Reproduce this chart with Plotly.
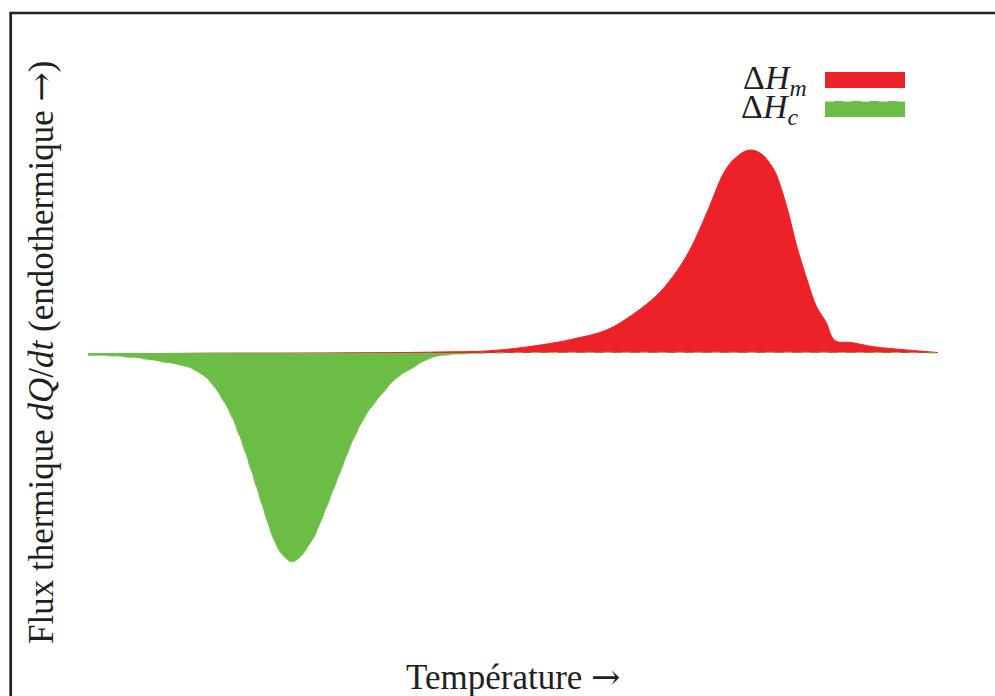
import plotly.graph_objects as go

# Melting endotherm (ΔH_m): temperature (arbitrary units) and heat flux (normalised)
t_melt = [0, 5, 13, 25, 37, 41.4, 47.3, 53.2, 57.1, 61.0, 64.1, 66.9, 68.8, 70.8,
          72.9, 74.7, 75.7, 76.5, 77.2, 77.9, 78.6, 79.4, 80.2, 80.9, 82.2, 83.4,
          84.6, 85.7, 86.9, 87.5, 88.1, 89.7, 92.4, 96.3, 100]
q_melt = [-0.010, -0.005, -0.001, 0.000, 0.0025, 0.005, 0.011, 0.039, 0.069, 0.113,
          0.190, 0.283, 0.376, 0.507, 0.700, 0.880, 0.942, 0.972, 0.992, 1.000, 0.995,
          0.975, 0.935, 0.887, 0.722, 0.524, 0.360, 0.229, 0.146, 0.080, 0.056, 0.052,
          0.031, 0.015, 0.0025]

# Crystallisation exotherm (ΔH_c)
t_cryst = [0, 4.9, 8.5, 12.0, 14.0, 15.5, 16.7, 17.9, 19.1, 20.2, 21.4, 22.0, 22.6,
           23.3, 23.9, 24.5, 25.1, 25.7, 26.5, 28.1, 29.7, 31.2, 32.8, 34.4, 36.3,
           38.0, 40.2, 42.2, 46.1, 54.4, 72.0, 93.2, 100]
q_cryst = [-0.010, -0.021, -0.042, -0.074, -0.126, -0.207, -0.296, -0.419, -0.567,
           -0.714, -0.870, -0.935, -0.980, -1.013, -1.028, -1.022, -1.000, -0.965,
           -0.915, -0.757, -0.586, -0.429, -0.300, -0.212, -0.123, -0.079, -0.027,
           -0.010, -0.002, 0.002, 0.003, 0.002, 0.0]

RED = "#ED2229"
GREEN = "#6BBD45"
INK = "#231F20"
FONT = "Liberation Serif"
ARROW = '<span style="font-family:DejaVu Serif">→</span>'
W, H = 995, 696


def px(x):
    return x / W


def py(y):
    return 1 - y / H


fig = go.Figure()
fig.add_trace(go.Scatter(x=t_melt, y=q_melt, mode="lines", fill="tozeroy",
                         fillcolor=RED, line=dict(color=RED, width=1, shape="spline",
                                                  smoothing=1.0),
                         showlegend=False, hoverinfo="skip"))
fig.add_trace(go.Scatter(x=t_cryst, y=q_cryst, mode="lines", fill="tozeroy",
                         fillcolor=GREEN, line=dict(color="rgba(140,200,100,0.85)", width=1.2,
                                                    dash="dash", shape="spline", smoothing=1.0),
                         showlegend=False, hoverinfo="skip"))

shapes = [
    # frame around the figure
    dict(type="rect", xref="paper", yref="paper", x0=px(10.7), x1=1.2, y0=-0.2, y1=py(13),
         line=dict(color=INK, width=2.7), fillcolor="rgba(0,0,0,0)", layer="above"),
    # legend swatches
    dict(type="rect", xref="paper", yref="paper", x0=px(825), x1=px(905), y0=py(88), y1=py(72),
         line=dict(width=0), fillcolor=RED),
    dict(type="rect", xref="paper", yref="paper", x0=px(825), x1=px(905), y0=py(117), y1=py(101),
         line=dict(width=0), fillcolor=GREEN),
    dict(type="line", xref="paper", yref="paper", x0=px(825), x1=px(905), y0=py(101.5), y1=py(101.5),
         line=dict(color="rgba(200,230,180,0.9)", width=1, dash="dash")),
]

annotations = [
    dict(text="Température " + ARROW, xref="paper", yref="paper", x=px(513), y=py(677),
         xanchor="center", yanchor="middle", showarrow=False,
         font=dict(family=FONT, size=35, color=INK)),
    dict(text="Flux thermique <i>dQ</i>/<i>dt</i> (endothermique " + ARROW + ")",
         xref="paper", yref="paper", x=px(41), y=py(353), xanchor="center", yanchor="middle",
         textangle=-90, showarrow=False, font=dict(family=FONT, size=35, color=INK)),
    dict(text="Δ<i>H</i><sub><i>m</i></sub>", xref="paper", yref="paper", x=px(809), y=py(80),
         xanchor="right", yanchor="middle", showarrow=False,
         font=dict(family=FONT, size=34, color=INK)),
    dict(text="Δ<i>H</i><sub><i>c</i></sub>", xref="paper", yref="paper", x=px(800), y=py(109),
         xanchor="right", yanchor="middle", showarrow=False,
         font=dict(family=FONT, size=34, color=INK)),
]

# axis ranges chosen so the whole page is the plotting area
x_lo, x_hi = (0 - 88) / 8.5, (W - 88) / 8.5
y_hi, y_lo = 353 / 203, -(H - 353) / 203

fig.update_layout(
    width=W, height=H, margin=dict(l=0, r=0, t=0, b=0),
    paper_bgcolor="white", plot_bgcolor="white",
    xaxis=dict(range=[x_lo, x_hi], visible=False, fixedrange=True),
    yaxis=dict(range=[y_lo, y_hi], visible=False, fixedrange=True),
    shapes=shapes, annotations=annotations,
)

fig.write_html("out.html")
